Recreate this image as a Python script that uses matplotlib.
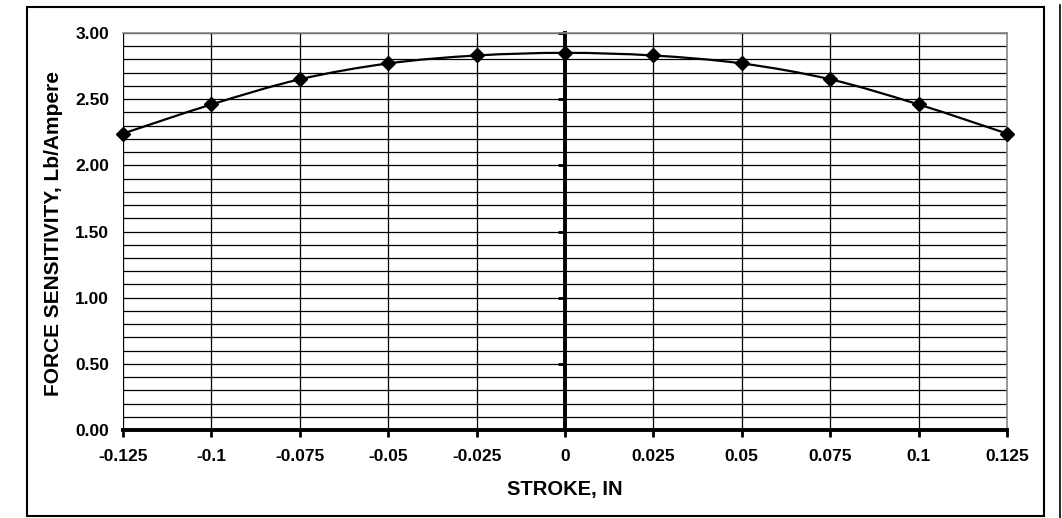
import numpy as np
import matplotlib
matplotlib.use("Agg")
import matplotlib.pyplot as plt
from matplotlib.path import Path
from matplotlib.patches import PathPatch, Rectangle
from matplotlib.lines import Line2D

plt.rcParams['font.family'] = ['Liberation Sans', 'DejaVu Sans']
plt.rcParams['font.weight'] = 'bold'

# data
stroke = [-0.125, -0.1, -0.075, -0.05, -0.025, 0, 0.025, 0.05, 0.075, 0.1, 0.125]
sensitivity = [2.24, 2.46, 2.65, 2.77, 2.83, 2.85, 2.83, 2.77, 2.65, 2.46, 2.24]
x_ticks = [-0.125, -0.1, -0.075, -0.05, -0.025, 0, 0.025, 0.05, 0.075, 0.1, 0.125]
x_labels = ["-0.125", "-0.1", "-0.075", "-0.05", "-0.025", "0",
            "0.025", "0.05", "0.075", "0.1", "0.125"]
y_ticks = [0.0, 0.5, 1.0, 1.5, 2.0, 2.5, 3.0]

W, H = 1062, 518
fig = plt.figure(figsize=(W / 100, H / 100), dpi=100)
ax = fig.add_axes([123 / W, 1 - 430 / H, (1007 - 123) / W, (430 - 33) / H])

# smoothed line (excel style bezier through the points)
xs = np.array(stroke)
ys = np.array(sensitivity)
verts = [(xs[0], ys[0])]
codes = [Path.MOVETO]
n = len(xs)
for i in range(n - 1):
    p0 = i - 1 if i > 0 else i
    p3 = i + 2 if i + 2 < n else i + 1
    c1 = (xs[i] + (xs[i + 1] - xs[p0]) / 6, ys[i] + (ys[i + 1] - ys[p0]) / 6)
    c2 = (xs[i + 1] - (xs[p3] - xs[i]) / 6, ys[i + 1] - (ys[p3] - ys[i]) / 6)
    verts += [c1, c2, (xs[i + 1], ys[i + 1])]
    codes += [Path.CURVE4] * 3
ax.add_patch(PathPatch(Path(verts, codes), fill=False, edgecolor='black', lw=1.6, zorder=4))
ax.plot(stroke, sensitivity, ls='none', marker='D', ms=7, color='black', zorder=5,
        clip_on=False)

ax.set_xlim(-0.125, 0.125)
ax.set_ylim(0, 3)

# grid
ax.set_xticks(x_ticks)
ax.set_xticklabels(x_labels)
ax.set_yticks(y_ticks)
ax.set_yticks(np.arange(0, 3.01, 0.1), minor=True)
ax.grid(True, which='both', axis='y', color='black', lw=0.9)
ax.grid(True, which='major', axis='x', color='black', lw=0.9)
ax.set_axisbelow(True)

for s in ['top', 'right']:
    ax.spines[s].set_color('#888888')
    ax.spines[s].set_linewidth(1.2)
ax.spines['bottom'].set_linewidth(2.8)
ax.spines['left'].set_position(('data', 0))
ax.spines['left'].set_linewidth(2.8)
ax.axvline(-0.125, color='#888888', lw=1.2, zorder=0.5)

ax.tick_params(axis='x', direction='out', length=5, width=2, pad=9, labelsize=12.5)
ax.tick_params(axis='y', which='major', direction='out', length=5, width=2, labelleft=False)
ax.tick_params(axis='y', which='minor', length=0)

# y labels sit at the left edge of the plot
sec = ax.secondary_yaxis('left')
sec.set_yticks(y_ticks)
sec.set_yticklabels(["%.2f" % v for v in y_ticks])
sec.tick_params(length=0, pad=10, labelsize=12.5)
sec.spines['left'].set_visible(False)

ax.set_xlabel("STROKE, IN", fontsize=14.5, fontweight='bold', labelpad=11)
fig.text(54 / W, 1 - 234 / H, "FORCE SENSITIVITY, Lb/Ampere", rotation=90,
         ha='center', va='center', fontsize=15, fontweight='bold')

# chart frame
fig.patches.append(Rectangle((27 / W, 1 - 516 / H), (1044 - 27) / W, (516 - 7) / H,
                             transform=fig.transFigure, fill=False, ec='black', lw=1.5))
fig.lines.append(Line2D([1060 / W, 1060 / W], [0, 1 - 5 / H], transform=fig.transFigure,
                        color='black', lw=1.2))

fig.savefig("out.png", dpi=100)
